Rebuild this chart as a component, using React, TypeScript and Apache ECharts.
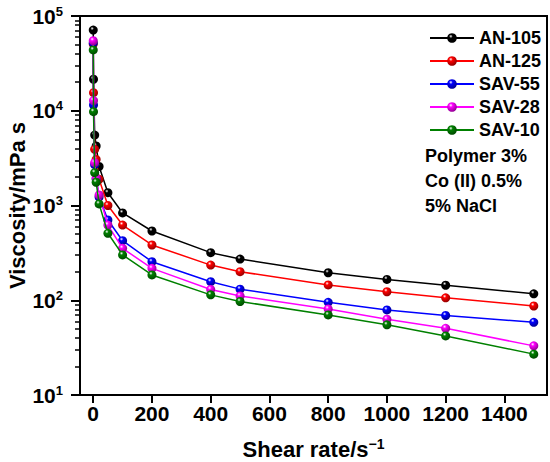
import React, { useEffect, useRef } from "react";
import * as echarts from "echarts";

const shearRates = [0.1, 1, 5, 10, 20, 50, 100, 200, 400, 500, 800, 1000, 1200, 1500];
const seriesNames = ["AN-105", "AN-125", "SAV-55", "SAV-28", "SAV-10"];
const an105 = [71000, 21500, 5540, 4250, 2580, 1365, 834, 538, 318, 272, 195, 166, 144, 117];
const an125 = [50600, 15500, 3920, 3060, 1890, 1000, 622, 383, 235, 200, 145, 123, 106, 87];
const sav55 = [52000, 11500, 2700, 1900, 1230, 703, 425, 255, 157, 131, 95, 79, 69, 58.5];
const sav28 = [54800, 12800, 2830, 1950, 1290, 622, 353, 217, 130, 111, 81, 63, 50.6, 33];
const sav10 = [43800, 9780, 2220, 1760, 1040, 509, 301, 185, 114, 97, 70, 55, 42, 27];
const seriesColors = ["#000000", "#ff0000", "#0000ff", "#ff00ff", "#008000"];
const darkColors = ["#000000", "#990000", "#000099", "#990099", "#004d00"];
const xTicks = [0, 200, 400, 600, 800, 1000, 1200, 1400];
const yMinorTicks = [2, 3, 4, 5, 6, 7, 8, 9].flatMap((m) => [10, 100, 1000, 10000].map((d) => Math.log10(m * d)));
const notes = ["Polymer 3%", "Co (II) 0.5%", "5% NaCl"];

const FONT = "Liberation Sans, Arial, sans-serif";

export default function App() {
  const ref = useRef<HTMLDivElement>(null);
  useEffect(() => {
    if (!ref.current) return;
    const chart = echarts.init(ref.current, undefined, { renderer: "svg" });
    const allValues = [an105, an125, sav55, sav28, sav10];
    const series = allValues.map((vals, i) => ({
      name: seriesNames[i],
      type: "line",
      xAxisIndex: 0,
      yAxisIndex: 0,
      data: shearRates.map((x, j) => [x, vals[j]]),
      symbol: "circle",
      symbolSize: 9,
      lineStyle: { color: seriesColors[i], width: 1.5 },
      itemStyle: {
        color: new echarts.graphic.RadialGradient(0.38, 0.32, 0.65, [
          { offset: 0, color: "#ffffff" },
          { offset: 0.3, color: seriesColors[i] },
          { offset: 1, color: darkColors[i] },
        ]),
        borderWidth: 0,
      },
      z: 2 + i,
    }));
    chart.setOption({
      animation: false,
      backgroundColor: "#ffffff",
      grid: {
        left: 80, right: 3, top: 16, bottom: 67,
        containLabel: false, outerBoundsMode: "none",
        show: true, borderColor: "#000", borderWidth: 2, backgroundColor: "transparent",
      },
      legend: {
        orient: "vertical",
        left: 424,
        top: 24,
        itemWidth: 44,
        itemHeight: 12,
        itemGap: 5,
        data: seriesNames,
        textStyle: { fontFamily: FONT, fontWeight: "bold", fontSize: 18, color: "#000" },
      },
      xAxis: [
        {
          type: "value",
          min: -45,
          max: 1545,
          name: "Shear rate/s{sup|−1}",
          nameLocation: "middle",
          nameGap: 42,
          nameMoveOverlap: false,
          nameTextStyle: {
            fontFamily: FONT,
            fontWeight: "bold",
            fontSize: 22,
            color: "#000",
            rich: { sup: { fontFamily: FONT, fontWeight: "bold", fontSize: 14, color: "#000", verticalAlign: "top", padding: [0, 0, 10, 0] } },
          },
          axisLine: { onZero: false, lineStyle: { color: "#000", width: 2 } },
          axisTick: { inside: false, length: 8, lineStyle: { color: "#000", width: 2 }, customValues: xTicks },
          axisLabel: { customValues: xTicks, formatter: (v: number) => String(v), fontFamily: FONT, fontWeight: "bold", fontSize: 21, color: "#000", margin: 8 },
          splitLine: { show: false },
        },
      ],
      yAxis: [
        {
          type: "log",
          logBase: 10,
          min: 10,
          max: 100000,
          position: "left",
          name: "Viscosity/mPa s",
          nameLocation: "middle",
          nameGap: 52,
          nameMoveOverlap: false,
          nameTextStyle: { fontFamily: FONT, fontWeight: "bold", fontSize: 22, color: "#000" },
          axisLine: { show: true, onZero: false, lineStyle: { color: "#000", width: 2 } },
          axisTick: { inside: false, length: 9, lineStyle: { color: "#000", width: 2 } },
          axisLabel: {
            fontFamily: FONT,
            color: "#000",
            margin: 17,
            formatter: (v: number) => "{b|10}{s|" + Math.round(Math.log10(v)) + "}",
            rich: {
              b: { fontFamily: FONT, fontWeight: "bold", fontSize: 21, color: "#000" },
              s: { fontFamily: FONT, fontWeight: "bold", fontSize: 13, color: "#000", verticalAlign: "top", padding: [0, 0, 10, 0] },
            },
          },
          splitLine: { show: false },
        },
        {
          type: "value",
          min: 1,
          max: 5,
          position: "left",
          offset: 0,
          axisLine: { show: true, onZero: false, lineStyle: { color: "#000", width: 2 } },
          axisTick: { show: true, inside: false, length: 5, lineStyle: { color: "#000", width: 1.5 }, customValues: yMinorTicks },
          axisLabel: { show: false },
          splitLine: { show: false },
        },
      ],
      graphic: notes.map((t, i) => ({
        type: "text",
        left: 425,
        top: 147 + i * 25,
        style: { text: t, fontFamily: FONT, fontWeight: "bold", fontSize: 18, fill: "#000" },
      })),
      series,
    });
    return () => chart.dispose();
  }, []);
  return <div ref={ref} style={{ position: "absolute", left: 0, top: 0, width: 550, height: 462 }} />;
}
